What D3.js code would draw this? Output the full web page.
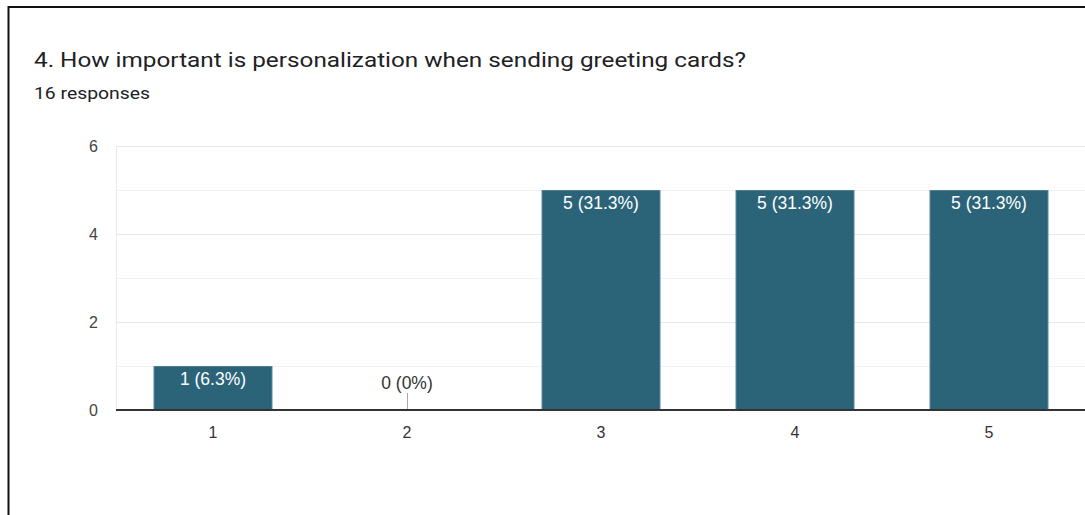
<!DOCTYPE html>
<html>
<head>
<meta charset="utf-8">
<script src="https://cdn.jsdelivr.net/npm/d3@7"></script>
<style>
  html, body { margin: 0; padding: 0; background: #fff; }
  svg { display: block; }
</style>
</head>
<body>
<svg id="chart" width="1085" height="515"></svg>
<script>
// Survey answers on a 1–5 scale
const categories = ["1", "2", "3", "4", "5"];
const counts = [1, 0, 5, 5, 5];
const totalResponses = 16;
const yTicks = [0, 2, 4, 6];
const title = "4. How important is personalization when sending greeting cards?";
const subtitle = totalResponses + " responses";

const svg = d3.select("#chart");
const chartFont = "Arial, 'Liberation Sans', sans-serif";

// Card frame (left and top edges)
svg.append("path")
  .attr("d", "M8.5,515 V7 H1085")
  .attr("fill", "none")
  .attr("stroke", "#111")
  .attr("stroke-width", 2);

svg.append("text")
  .attr("x", 34).attr("y", 67)
  .attr("font-family", "Roboto, sans-serif")
  .attr("font-size", 20)
  .attr("fill", "#202124")
  .attr("textLength", 712)
  .attr("lengthAdjust", "spacingAndGlyphs")
  .text(title);

svg.append("text")
  .attr("x", 34).attr("y", 99)
  .attr("font-family", "Roboto, sans-serif")
  .attr("font-size", 16)
  .attr("fill", "#202124")
  .attr("textLength", 116)
  .attr("lengthAdjust", "spacingAndGlyphs")
  .text(subtitle);

const plot = { left: 116, right: 1086, top: 146, bottom: 410 };

const x = d3.scaleBand()
  .domain(categories)
  .range([plot.left, plot.right])
  .paddingInner(0.387)
  .paddingOuter(0.1935);

const y = d3.scaleLinear()
  .domain([0, 6])
  .range([plot.bottom, plot.top]);

// Horizontal gridlines at every unit
const g = svg.append("g");
g.selectAll("line.grid")
  .data(d3.range(1, 7))
  .join("line")
  .attr("class", "grid")
  .attr("x1", plot.left).attr("x2", plot.right)
  .attr("y1", d => y(d) + 0.5).attr("y2", d => y(d) + 0.5)
  .attr("stroke", d => d % 2 === 0 ? "#e8e8e8" : "#f2f2f2")
  .attr("stroke-width", 1);

// Left edge of the plot area
g.append("line")
  .attr("x1", plot.left + 0.5).attr("x2", plot.left + 0.5)
  .attr("y1", plot.top).attr("y2", plot.bottom)
  .attr("stroke", "#e8e8e8");

// Y axis labels
const yAxis = d3.axisLeft(y).tickValues(yTicks).tickFormat(d3.format("d")).tickSize(0).tickPadding(18);
svg.append("g")
  .attr("transform", `translate(${plot.left},0)`)
  .call(yAxis)
  .call(s => s.select(".domain").remove())
  .call(s => s.selectAll("text")
    .attr("font-family", chartFont)
    .attr("font-size", 16)
    .attr("fill", "#444"));

const rows = categories.map((c, i) => ({ c, v: counts[i] }));

// Bars
svg.append("g").selectAll("rect")
  .data(rows.filter(d => d.v > 0))
  .join("rect")
  .attr("x", d => x(d.c) + 0.5)
  .attr("y", d => y(d.v) + 0.5)
  .attr("width", x.bandwidth() - 1)
  .attr("height", d => y(0) - y(d.v) - 0.5)
  .attr("fill", "#2b6479")
  .attr("stroke", "#4f8194")
  .attr("stroke-width", 1);

// Zero-value marker stem
svg.append("g").selectAll("line")
  .data(rows.filter(d => d.v === 0))
  .join("line")
  .attr("x1", d => x(d.c) + x.bandwidth() / 2 + 0.5)
  .attr("x2", d => x(d.c) + x.bandwidth() / 2 + 0.5)
  .attr("y1", y(0) - 17).attr("y2", y(0))
  .attr("stroke", "#aaa");

// Value labels
const fmt = v => v + " (" + (+(v / totalResponses * 100).toFixed(1)) + "%)";
svg.append("g").selectAll("text")
  .data(rows)
  .join("text")
  .attr("x", d => x(d.c) + x.bandwidth() / 2)
  .attr("y", d => d.v > 0 ? y(d.v) + 19 : y(0) - 21)
  .attr("text-anchor", "middle")
  .attr("font-family", chartFont)
  .attr("font-size", 17.5)
  .attr("fill", d => d.v > 0 ? "#fff" : "#333")
  .text(d => fmt(d.v));

// Baseline
svg.append("line")
  .attr("x1", plot.left).attr("x2", plot.right)
  .attr("y1", y(0)).attr("y2", y(0))
  .attr("stroke", "#333")
  .attr("stroke-width", 2);

// X axis labels
const xAxis = d3.axisBottom(x).tickSize(0).tickPadding(16.5);
svg.append("g")
  .attr("transform", `translate(0,${plot.bottom})`)
  .call(xAxis)
  .call(s => s.select(".domain").remove())
  .call(s => s.selectAll("text")
    .attr("font-family", chartFont)
    .attr("font-size", 16)
    .attr("fill", "#333"));
</script>
</body>
</html>
